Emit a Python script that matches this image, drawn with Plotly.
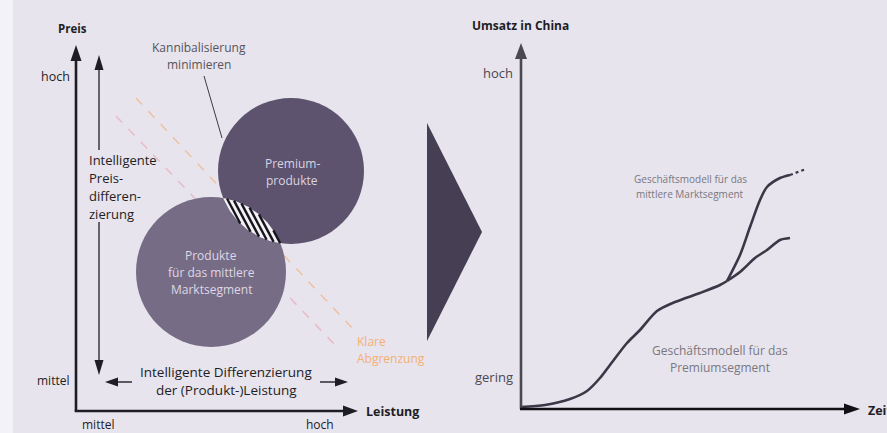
import math
import plotly.graph_objects as go

W, H = 887, 433
FONT = "Open Sans"
BG = "#e7e4ed"
INK = "#1f1d24"

# Umsatz-Verlauf (Zeit, Umsatz) in Achseneinheiten
zeit_basis = [0, 24, 49, 66, 79, 89, 106, 119, 136, 154, 179, 199, 206]
umsatz_basis = [2, 4, 10, 18, 31, 44, 66, 79, 98, 107, 116, 124, 128]
zeit_mittelsegment = [206, 219, 229, 239, 246, 259, 269]
umsatz_mittelsegment = [128, 154, 182, 209, 222, 231, 234]
zeit_mittelsegment_trend = [269, 278, 285]
umsatz_mittelsegment_trend = [234, 237, 240]
zeit_premium = [206, 219, 234, 246, 259, 269]
umsatz_premium = [128, 137, 151, 159, 169, 171]

# Beschriftungen
achse_links_y = ["hoch", "mittel"]
achse_links_x = ["mittel", "hoch"]
achse_rechts_y = ["hoch", "gering"]
text_premium = ["Premium-", "produkte"]
text_mittel = ["Produkte", "für das mittlere", "Marktsegment"]
text_preisdiff = ["Intelligente", "Preis-", "differen-", "zierung"]
text_leistungsdiff = ["Intelligente Differenzierung", "der (Produkt-)Leistung"]
text_kannibal = ["Kannibalisierung", "minimieren"]
text_abgrenzung = ["Klare", "Abgrenzung"]
text_gm_mittel = ["Geschäftsmodell für das", "mittlere Marktsegment"]
text_gm_premium = ["Geschäftsmodell für das", "Premiumsegment"]

shapes = []
annotations = []


def line(x0, y0, x1, y1, color, width, dash="solid", layer="above"):
    shapes.append(dict(type="line", xref="x", yref="y", x0=x0, y0=y0, x1=x1, y1=y1,
                       line=dict(color=color, width=width, dash=dash), layer=layer))


def arrow(x0, y0, x1, y1, color, width, head_len, head_w):
    L = math.hypot(x1 - x0, y1 - y0)
    ux, uy = (x1 - x0) / L, (y1 - y0) / L
    bx, by = x1 - ux * head_len, y1 - uy * head_len
    line(x0, y0, bx + ux, by + uy, color, width)
    px, py = -uy, ux
    path = (f"M {x1},{y1} L {bx + px * head_w / 2},{by + py * head_w / 2} "
            f"L {bx - px * head_w / 2},{by - py * head_w / 2} Z")
    shapes.append(dict(type="path", xref="x", yref="y", path=path,
                       fillcolor=color, line=dict(width=0)))


def text(x, y, s, size=12, color=INK, bold=False, anchor="center"):
    if bold:
        s = f"<b>{s}</b>"
    annotations.append(dict(x=x, y=y, xref="x", yref="y", text=s, showarrow=False,
                            xanchor=anchor, yanchor="middle",
                            font=dict(family=FONT, size=size, color=color)))


def text_block(x, y0, step, lines, **kw):
    for i, s in enumerate(lines):
        text(x, y0 + i * step, s, **kw)


# helle Randfläche links
shapes.append(dict(type="rect", xref="x", yref="y", x0=0, x1=13, y0=0, y1=H,
                   fillcolor="#f3f2f6", line=dict(width=0), layer="below"))

# Abgrenzungslinien (hinter den Kreisen)
line(116, 116, 336, 346, "rgba(236,150,160,0.5)", 1.5, "dash", "below")
line(136, 98, 354, 330, "rgba(244,172,110,0.6)", 1.5, "dash", "below")

# Kreise
c_mid, r_mid = (211, 272), 75
c_pre, r_pre = (291, 171), 73
shapes.append(dict(type="circle", xref="x", yref="y",
                   x0=c_mid[0] - r_mid, x1=c_mid[0] + r_mid,
                   y0=c_mid[1] - r_mid, y1=c_mid[1] + r_mid,
                   fillcolor="#776c86", line=dict(width=0), layer="below"))
shapes.append(dict(type="circle", xref="x", yref="y",
                   x0=c_pre[0] - r_pre, x1=c_pre[0] + r_pre,
                   y0=c_pre[1] - r_pre, y1=c_pre[1] + r_pre,
                   fillcolor="#5d536e", line=dict(width=0), layer="below"))

# Großer Pfeil zwischen den Teilgrafiken
shapes.append(dict(type="path", xref="x", yref="y",
                   path="M 427,123 L 482,232 L 427,341 Z",
                   fillcolor="#463e52", line=dict(width=0), layer="below"))


# Überschneidung der Kreise (Linse, schraffiert)
def lens_polygon(c1, r1, c2, r2, n=40):
    d = math.hypot(c2[0] - c1[0], c2[1] - c1[1])
    a = (d * d + r1 * r1 - r2 * r2) / (2 * d)
    b = d - a
    phi = math.atan2(c2[1] - c1[1], c2[0] - c1[0])
    h1 = math.acos(a / r1)
    h2 = math.acos(b / r2)
    xs, ys = [], []
    for i in range(n + 1):
        t = phi - h1 + 2 * h1 * i / n
        xs.append(c1[0] + r1 * math.cos(t))
        ys.append(c1[1] + r1 * math.sin(t))
    phi2 = phi + math.pi
    for i in range(n + 1):
        t = phi2 - h2 + 2 * h2 * i / n
        xs.append(c2[0] + r2 * math.cos(t))
        ys.append(c2[1] + r2 * math.sin(t))
    return xs, ys


def chord_interval(px, py, dx, dy, c, r):
    fx, fy = px - c[0], py - c[1]
    b = dx * fx + dy * fy
    cc = fx * fx + fy * fy - r * r
    disc = b * b - cc
    if disc <= 0:
        return None
    s = math.sqrt(disc)
    return -b - s, -b + s


def lens_hatch(c1, r1, c2, r2, spacing, angle_deg):
    dx, dy = math.cos(math.radians(angle_deg)), math.sin(math.radians(angle_deg))
    nx, ny = -dy, dx
    mx, my = (c1[0] + c2[0]) / 2, (c1[1] + c2[1]) / 2
    xs, ys = [], []
    for k in range(-30, 31):
        px, py = mx + nx * k * spacing, my + ny * k * spacing
        i1 = chord_interval(px, py, dx, dy, c1, r1)
        i2 = chord_interval(px, py, dx, dy, c2, r2)
        if not i1 or not i2:
            continue
        lo, hi = max(i1[0], i2[0]), min(i1[1], i2[1])
        if hi <= lo:
            continue
        xs += [px + dx * lo, px + dx * hi, None]
        ys += [py + dy * lo, py + dy * hi, None]
    return xs, ys


lx, ly = lens_polygon(c_mid, r_mid, c_pre, r_pre)
hx, hy = lens_hatch(c_mid, r_mid, c_pre, r_pre, 5.2, 62)

fig = go.Figure()
fig.add_trace(go.Scatter(x=lx, y=ly, mode="lines", fill="toself", fillcolor="#f4f2f6",
                         line=dict(width=0), hoverinfo="skip", showlegend=False))
fig.add_trace(go.Scatter(x=hx, y=hy, mode="lines", line=dict(color="#17151c", width=2.4),
                         hoverinfo="skip", showlegend=False))

# Umsatzkurven (rechte Grafik)
curve_style = dict(color="#3a3746", width=2.6, shape="spline", smoothing=0.8)
for xs, ys in [(zeit_basis, umsatz_basis),
               (zeit_mittelsegment, umsatz_mittelsegment),
               (zeit_premium, umsatz_premium)]:
    fig.add_trace(go.Scatter(x=xs, y=ys, mode="lines", line=curve_style,
                             xaxis="x2", yaxis="y2", hoverinfo="skip", showlegend=False))
fig.add_trace(go.Scatter(x=zeit_mittelsegment_trend, y=umsatz_mittelsegment_trend,
                         mode="lines", line=dict(color="#3a3746", width=2.2, dash="dot"),
                         xaxis="x2", yaxis="y2", hoverinfo="skip", showlegend=False))

# Achsen links
arrow(76, 411, 76, 45, INK, 2.6, 16, 11)
arrow(74.7, 411, 358, 411, INK, 2.6, 15, 11)
# Preisdifferenzierung (Doppelpfeil)
arrow(99, 150, 99, 55, INK, 1.3, 15, 9)
arrow(99, 222, 99, 375, INK, 1.3, 15, 9)
# Leistungsdifferenzierung (Doppelpfeil)
arrow(132, 382, 105, 382, INK, 1.4, 13, 9)
arrow(320, 382, 348, 382, INK, 1.4, 13, 9)
# Hinweislinie Kannibalisierung
line(204, 76, 222, 138, "#3c3a44", 1)

# Achsen rechts
arrow(521, 409, 521, 43, "#4a4850", 2.6, 16, 12)
arrow(520, 409, 860, 409, "#111015", 2.6, 16, 11)

# Beschriftungen links
text(72, 28, "Preis", size=11.5, bold=True)
text(55, 76, achse_links_y[0], size=12.5)
text(53, 380, achse_links_y[1], size=12)
text(98, 424, achse_links_x[0], size=12)
text(320, 424, achse_links_x[1], size=12)
text(364, 411, "Leistung", size=12.5, bold=True, anchor="left")
text_block(87, 160, 18, text_preisdiff, size=13, anchor="left")
text_block(226, 372, 18, text_leistungsdiff, size=13.5)
text_block(199, 47, 17, text_kannibal, size=12, color="#56545c")
text_block(355, 341, 17, text_abgrenzung, size=12, color="#f3b173", anchor="left")
text_block(292, 163, 17, text_premium, size=12, color="#d9d4e2")
text_block(211, 255, 17, text_mittel, size=12, color="#ddd8e5")

# Beschriftungen rechts
text(470, 25, "Umsatz in China", size=12, bold=True, anchor="left")
text(498, 73, achse_rechts_y[0], size=13, color="#4a4850")
text(494, 377, achse_rechts_y[1], size=13, color="#4a4850")
text(866, 410, "Zeit", size=12.5, bold=True, anchor="left")
text_block(690, 179, 15, text_gm_mittel, size=10, color="#7a7880")
text_block(720, 350, 17, text_gm_premium, size=12, color="#7a7880")

fig.update_layout(
    width=W, height=H,
    margin=dict(l=0, r=0, t=0, b=0),
    paper_bgcolor=BG, plot_bgcolor="rgba(0,0,0,0)",
    shapes=shapes, annotations=annotations,
    xaxis=dict(range=[0, W], visible=False, fixedrange=True),
    yaxis=dict(range=[H, 0], visible=False, fixedrange=True),
    xaxis2=dict(domain=[521 / W, 860 / W], range=[0, 339], anchor="y2",
                visible=False, fixedrange=True),
    yaxis2=dict(domain=[24 / H, 390 / H], range=[0, 366], anchor="x2",
                visible=False, fixedrange=True),
    showlegend=False,
)

fig.write_html("out.html")
